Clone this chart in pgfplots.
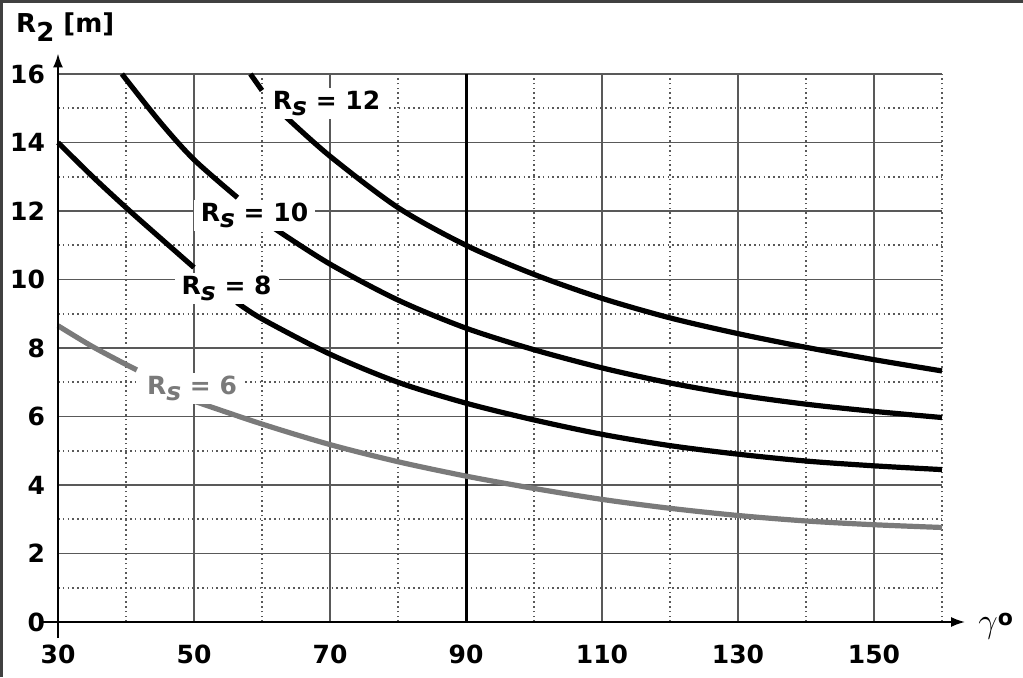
\documentclass[border=0pt]{standalone}
\usepackage{fontspec}
\setmainfont{DejaVu Sans}
\usepackage{pgfplots}
\pgfplotsset{compat=1.18}
\usetikzlibrary{arrows.meta}

\definecolor{gridc}{gray}{0.35}
\definecolor{curvegray}{gray}{0.48}
\newcommand{\Rs}{R\raisebox{-3pt}{\textit{s}}}
\newcommand{\lblfont}{\bfseries\fontsize{12.5}{12.5}\selectfont}

\begin{document}
\begin{tikzpicture}
\begin{axis}[
  at={(0,0)}, anchor=south west,
  scale only axis, width=442pt, height=274pt,
  xmin=30, xmax=160, ymin=0, ymax=16,
  clip=false,
  axis line style={draw=none},
  major tick length=0pt, minor tick length=0pt,
  xtick={30,50,...,150}, minor xtick={40,60,...,160},
  ytick={0,2,...,16}, minor ytick={1,3,...,15},
  grid=both,
  major grid style={gridc, line width=0.9pt},
  minor grid style={gridc, line width=0.8pt, dash pattern=on 0.8pt off 1.6pt},
  /pgf/number format/assume math mode=true,
  xticklabel style={font=\lblfont, yshift=-8pt},
  yticklabel style={font=\lblfont, xshift=-3pt},
]
\addplot[black, line width=1.5pt] coordinates {(90,0) (90,16)};

% Rs = 12
\addplot[black, line width=2.6pt, smooth] coordinates {(58.3,16.0) (60,15.52)};
\addplot[black, line width=2.6pt, smooth] coordinates {
(63.5,14.75) (70,13.6) (80,12.1) (90,11.0) (100,10.15) (110,9.45)
(120,8.88) (130,8.42) (140,8.02) (150,7.66) (160,7.33)};
% Rs = 10
\addplot[black, line width=2.6pt, smooth] coordinates {
(39.4,16.0) (45,14.6) (50,13.5) (56.4,12.39)};
\addplot[black, line width=2.6pt, smooth] coordinates {
(61.75,11.5) (70,10.45) (80,9.4) (90,8.58) (100,7.95) (110,7.42)
(120,6.98) (130,6.63) (140,6.36) (150,6.15) (160,5.97)};
% Rs = 8
\addplot[black, line width=2.6pt, smooth] coordinates {
(30,14.0) (35,13.02) (40,12.1) (45,11.22) (50,10.35)};
\addplot[black, line width=2.6pt, smooth] coordinates {
(56.3,9.33) (60,8.85) (70,7.82) (80,7.0) (90,6.39) (100,5.9)
(110,5.48) (120,5.15) (130,4.9) (140,4.7) (150,4.56) (160,4.45)};
% Rs = 6
\addplot[curvegray, line width=2.6pt, smooth] coordinates {
(30,8.65) (35,8.05) (40,7.52) (41.6,7.36)};
\addplot[curvegray, line width=2.6pt, smooth] coordinates {
(50,6.45) (60,5.78) (70,5.18) (80,4.68) (90,4.26) (100,3.9) (110,3.58)
(120,3.32) (130,3.11) (140,2.95) (150,2.84) (160,2.76)};

\tikzset{rslabel/.style={fill=white, inner xsep=3.5pt, inner ysep=1.5pt, anchor=base, font=\lblfont}}
\node[rslabel] at (axis cs:69.5,14.95) {\Rs{} = 12};
\node[rslabel] at (axis cs:58.9,11.7) {\Rs{} = 10};
\node[rslabel] at (axis cs:54.8,9.57) {\Rs{} = 8};
\node[rslabel, text=curvegray] at (axis cs:49.7,6.63) {\Rs{} = 6};

\draw[black, line width=1pt, -{Latex[length=7pt,width=5pt]}] (axis cs:27.6,0) -- (axis cs:163.4,0);
\draw[black, line width=1pt, -{Latex[length=7pt,width=5pt]}] (axis cs:30,-0.47) -- (axis cs:30,16.6);

\node[anchor=base west, inner sep=0pt, font=\bfseries\fontsize{13}{13}\selectfont] at (axis cs:23.8,17.2) {R\raisebox{-4.5pt}{2} [m]};
\node[anchor=base west, inner sep=0pt] at (axis cs:165.3,-0.32) {\fontsize{16}{16}\selectfont$\gamma$\raisebox{3.5pt}{\bfseries\fontsize{11}{11}\selectfont o}};
\end{axis}
\draw[black!75, line width=1.5pt] (-28.25pt,-27.5pt) -- (-28.25pt,310.25pt) -- (482.5pt,310.25pt);
\pgfresetboundingbox
\useasboundingbox (-29pt,-27.5pt) rectangle (482.5pt,311pt);
\end{tikzpicture}
\end{document}
